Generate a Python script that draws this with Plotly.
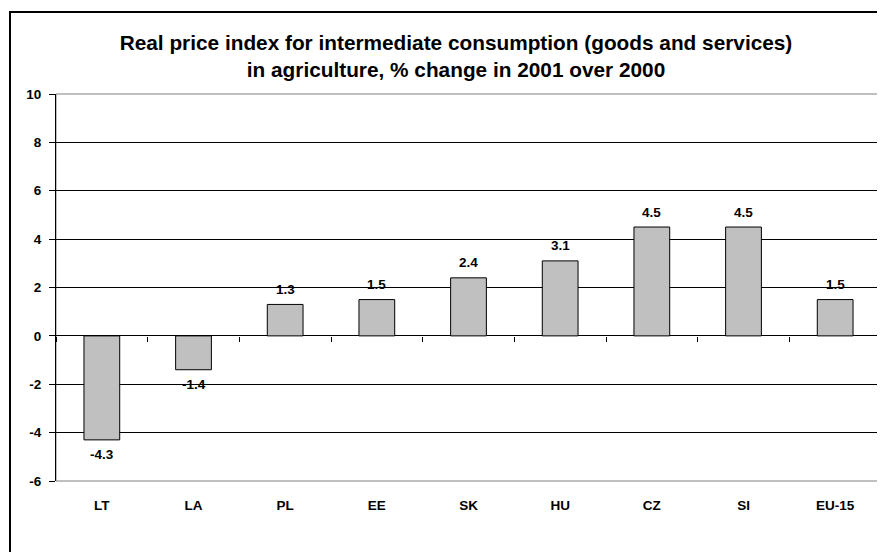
import plotly.graph_objects as go

categories = ["LT", "LA", "PL", "EE", "SK", "HU", "CZ", "SI", "EU-15"]
values = [-4.3, -1.4, 1.3, 1.5, 2.4, 3.1, 4.5, 4.5, 1.5]
y_tick_values = [-6, -4, -2, 0, 2, 4, 6, 8, 10]
y_tick_labels = ["-6", "-4", "-2", "0", "2", "4", "6", "8", "10"]
title_lines = ["Real price index for intermediate consumption (goods and services)",
               "in agriculture, % change in 2001 over 2000"]

FONT = "Liberation Sans, Arial, sans-serif"
OFF = 8  # page body margin
W, H = 885 - OFF, 552 - OFF
L, R, T, B = 56 - OFF, 4, 94 - OFF, 71
pw, ph = W - L - R, H - T - B
LABEL_SIZE = 13.5

fig = go.Figure()
fig.add_trace(go.Bar(
    x=categories, y=values,
    marker=dict(color="#C0C0C0", line=dict(color="#000000", width=1)),
    hoverinfo="skip", showlegend=False,
))
# invisible twin trace to carry the tick axis at the zero line
fig.add_trace(go.Bar(
    x=categories, y=values, xaxis="x2", opacity=0,
    marker=dict(color="rgba(0,0,0,0)"), hoverinfo="skip", showlegend=False,
))

annotations = [
    dict(x=c, y=v, xref="x", yref="y", text=f"{v:.1f}", showarrow=False,
         xanchor="center", yanchor="middle", yshift=15 if v >= 0 else -15,
         font=dict(family=FONT, size=LABEL_SIZE, color="#000000", weight="bold"))
    for c, v in zip(categories, values)
]

fig.update_layout(
    width=W, height=H,
    margin=dict(l=L, r=R, t=T, b=B),
    paper_bgcolor="white", plot_bgcolor="white",
    bargap=0.61,
    barmode="overlay",
    font=dict(family=FONT, size=LABEL_SIZE, color="#000000"),
    title=dict(
        text="<br>".join(title_lines),
        x=(456 - OFF) / W, xref="container", xanchor="center",
        y=1 - (50 - OFF) / H, yref="container", yanchor="middle",
        font=dict(family=FONT, size=20.8, color="#000000", weight="bold"),
    ),
    xaxis=dict(
        type="category", showgrid=False, showline=False, zeroline=False,
        ticks="", ticklabelstandoff=14,
        tickfont=dict(family=FONT, size=LABEL_SIZE, color="#000000", weight="bold"),
    ),
    xaxis2=dict(
        type="category", overlaying="x", matches="x", anchor="free",
        position=6 / 16, showgrid=False, showline=False, zeroline=False,
        ticks="outside", tickson="boundaries", ticklen=5, tickcolor="#000000",
        tickwidth=1, showticklabels=False,
    ),
    yaxis=dict(
        range=[-6, 10], tickvals=y_tick_values, ticktext=y_tick_labels,
        showgrid=True, gridcolor="#000000", gridwidth=1,
        zeroline=True, zerolinecolor="#000000", zerolinewidth=1,
        showline=True, linecolor="#000000", linewidth=1, mirror=False,
        ticks="outside", ticklen=6, tickcolor="#000000", ticklabelstandoff=5,
        tickfont=dict(family=FONT, size=LABEL_SIZE, color="#000000", weight="bold"),
    ),
    annotations=annotations,
    shapes=[
        dict(type="rect", xref="paper", yref="paper", x0=0, x1=1, y0=0, y1=1,
             line=dict(color="#808080", width=1), layer="between"),
        dict(type="rect", xref="paper", yref="paper",
             x0=(10 - 56) / pw, x1=1.2, y0=1 + (94 - 12) / ph, y1=-0.5,
             line=dict(color="#000000", width=2), fillcolor="rgba(0,0,0,0)"),
    ],
)

fig.write_html("out.html")
